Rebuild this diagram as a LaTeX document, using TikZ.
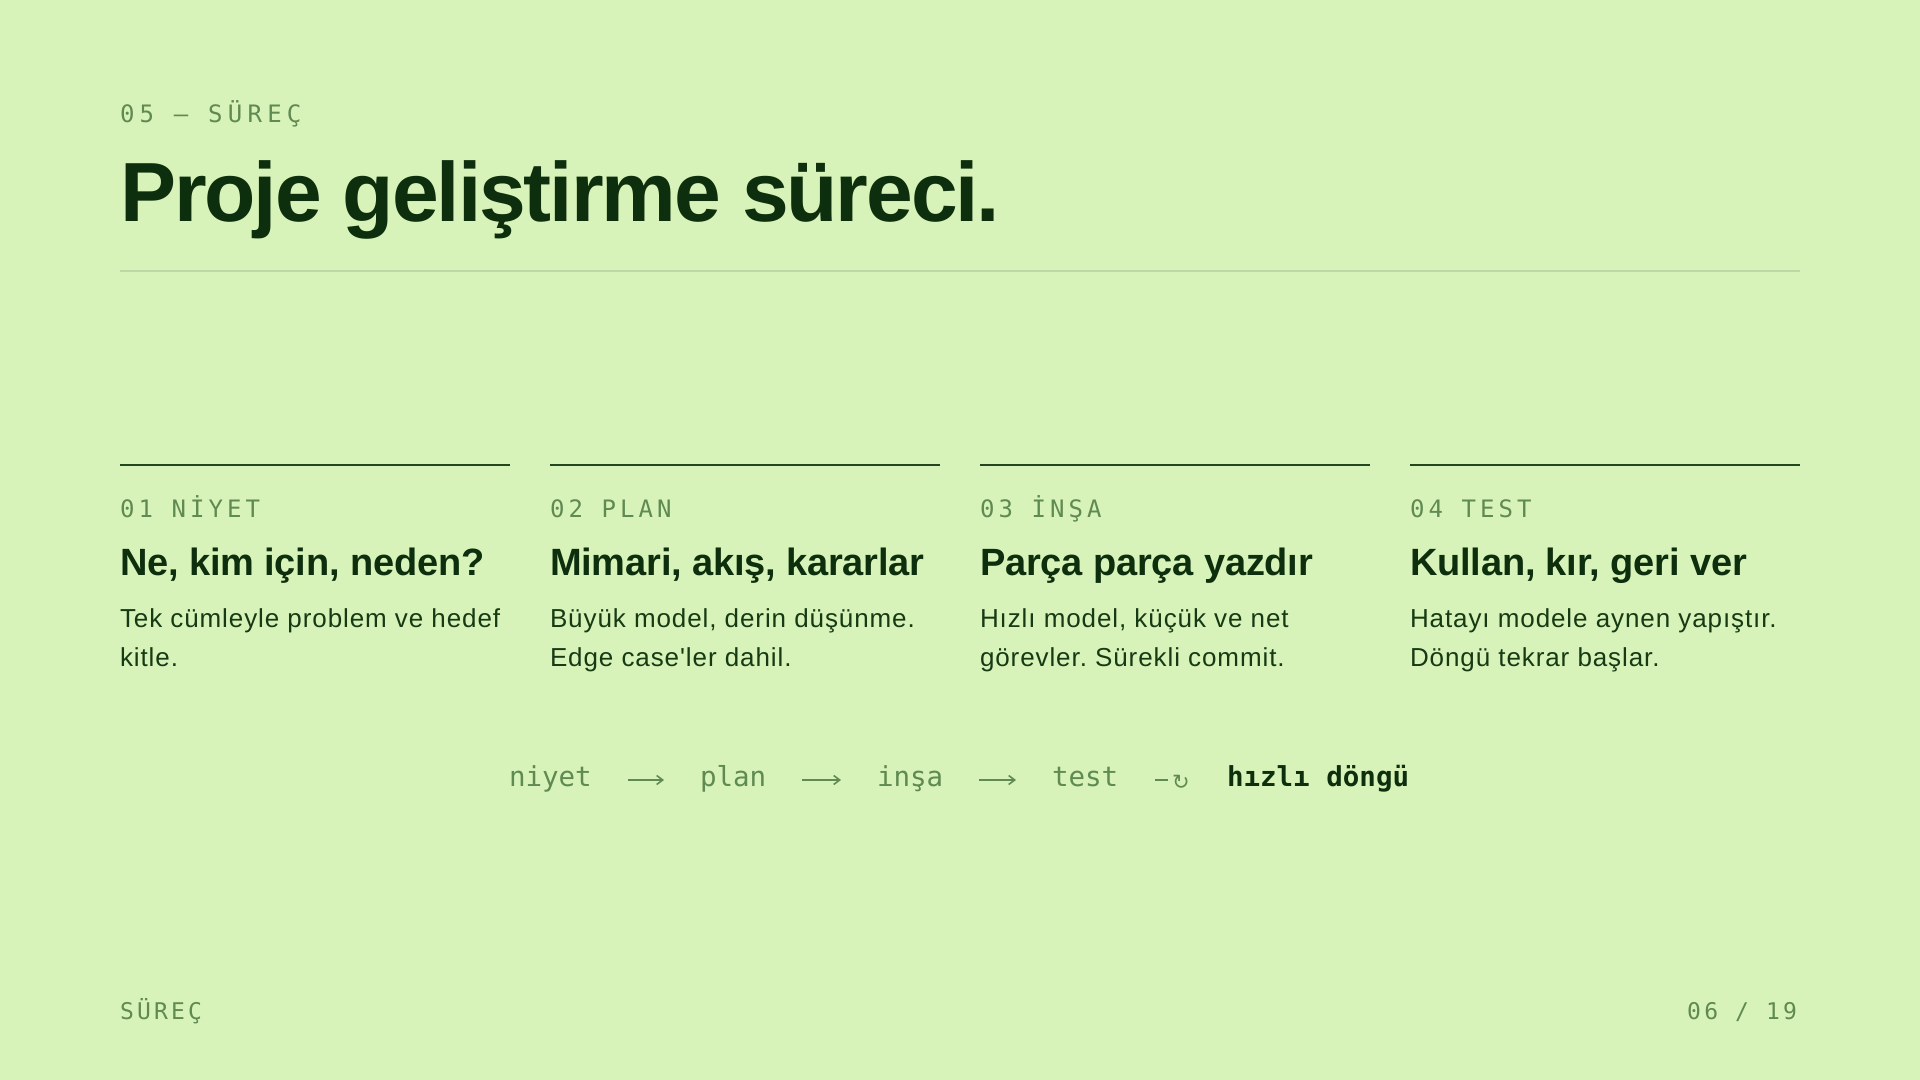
\documentclass[tikz,border=0pt]{standalone}
\usepackage{fontspec}
\usetikzlibrary{arrows.meta,calc}
\newfontfamily\sansf{Liberation Sans}[Ligatures=TeXOff]
\newfontfamily\monof{DejaVu Sans Mono}[Ligatures=TeXOff]
\newfontfamily\symf{DejaVu Sans}
\definecolor{bg}{HTML}{D8F3B9}
\definecolor{ink}{HTML}{0D2F0D}
\definecolor{body}{HTML}{163A14}
\definecolor{muted}{HTML}{5F8A52}
\definecolor{rulel}{HTML}{BCD8A4}
\definecolor{colrule}{HTML}{23451F}
\frenchspacing
\tikzset{
  txt/.style={anchor=base west, inner sep=0pt, outer sep=0pt},
  kicker/.style={txt, text=muted, font=\monof\fontsize{12pt}{14pt}\selectfont\addfontfeatures{LetterSpace=17}},
  kickertop/.style={txt, text=muted, font=\monof\fontsize{12pt}{14pt}\selectfont\addfontfeatures{LetterSpace=22}},
  titlest/.style={txt, text=ink, font=\sansf\bfseries\fontsize{42pt}{50pt}\selectfont\addfontfeatures{LetterSpace=-2.5}},
  heading/.style={txt, text=ink, font=\sansf\bfseries\fontsize{19pt}{23pt}\selectfont\addfontfeatures{LetterSpace=-0.5}},
  bodytxt/.style={txt, text=body, font=\sansf\fontsize{13pt}{19.5pt}\selectfont\addfontfeatures{LetterSpace=3.5}},
  flow/.style={txt, text=muted, font=\monof\fontsize{13.75pt}{16pt}\selectfont},
  flowbold/.style={txt, text=ink, font=\monof\bfseries\fontsize{13.75pt}{16pt}\selectfont},
  footer/.style={txt, text=muted, font=\monof\fontsize{11.5pt}{14pt}\selectfont\addfontfeatures{LetterSpace=14}},
  flowarrow/.style={draw=muted, line width=0.8pt, -{Straight Barb[length=3pt,width=4.5pt]}},
  colline/.style={draw=colrule, line width=1pt},
}
\begin{document}
\begin{tikzpicture}[x=0.5pt,y=-0.5pt]
\fill[bg] (0,0) rectangle (1920,1080);
\useasboundingbox (0,0) rectangle (1920,1080);

\node[kickertop] (kick) at (120,123) {05 — SÜREÇ};
\node[titlest] (title) at (120,222) {Proje geliştirme süreci.};
\draw[rulel, line width=0.7pt] (120,271) -- (1800,271);

% columns
\draw[colline] (120,465) -- (510,465);
\draw[colline] (550,465) -- (940,465);
\draw[colline] (980,465) -- (1370,465);
\draw[colline] (1410,465) -- (1800,465);

\node[kicker] (l1) at (120,517) {01 NİYET};
\node[kicker] (l2) at (550,517) {02 PLAN};
\node[kicker] (l3) at (980,517) {03 İNŞA};
\node[kicker] (l4) at (1410,517) {04 TEST};

\node[heading] (h1) at (120,575) {Ne, kim için, neden?};
\node[heading] (h2) at (550,575) {Mimari, akış, kararlar};
\node[heading] (h3) at (980,575) {Parça parça yazdır};
\node[heading] (h4) at (1410,575) {Kullan, kır, geri ver};

\node[bodytxt] (b1a) at (120,627) {Tek cümleyle problem ve hedef};
\node[bodytxt] (b1b) at (120,666) {kitle.};
\node[bodytxt] (b2a) at (550,627) {Büyük model, derin düşünme.};
\node[bodytxt] (b2b) at (550,666) {Edge case'ler dahil.};
\node[bodytxt] (b3a) at (980,627) {Hızlı model, küçük ve net};
\node[bodytxt] (b3b) at (980,666) {görevler. Sürekli commit.};
\node[bodytxt] (b4a) at (1410,627) {Hatayı modele aynen yapıştır.};
\node[bodytxt] (b4b) at (1410,666) {Döngü tekrar başlar.};

% flow
\node[flow] (f1) at (509,786) {niyet};
\node[flow] (f2) at (700,786) {plan};
\node[flow] (f3) at (877,786) {inşa};
\node[flow] (f4) at (1052,786) {test};
\node[flowbold] (f5) at (1227,786) {hızlı döngü};
\node[inner sep=0pt, text=muted, font=\symf\fontsize{10.5pt}{12pt}\selectfont] (loop) at (1181,782) {↻};

\draw[flowarrow] ($(f1.base east)+(36,-6)$) -- ($(f2.base west)+(-36,-6)$);
\draw[flowarrow] ($(f2.base east)+(36,-6)$) -- ($(f3.base west)+(-36,-6)$);
\draw[flowarrow] ($(f3.base east)+(36,-6)$) -- ($(f4.base west)+(-36,-6)$);
\draw[draw=muted, line width=0.8pt] ($(f4.base east)+(37,-6)$) -- ($(loop.west |- f4.base)+(-4,-6)$);

\node[footer] (foot) at (120,1019) {SÜREÇ};
\node[footer, anchor=base east] (page) at (1797,1019) {06 / 19};
\end{tikzpicture}
\end{document}
